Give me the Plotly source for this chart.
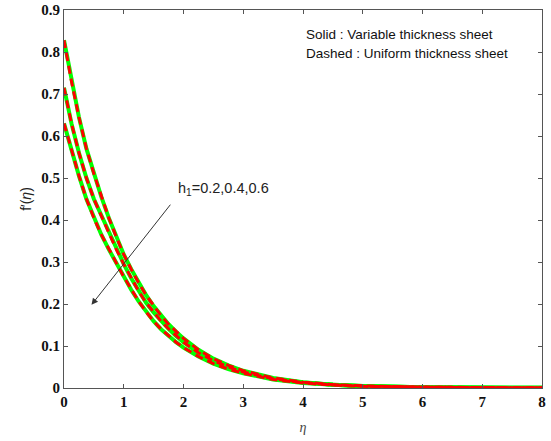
import plotly.graph_objects as go

# eta grid and f'(eta) values
eta = [0, 0.125, 0.25, 0.375, 0.5, 0.625, 0.75, 0.875, 1.0, 1.125, 1.25, 1.375, 1.5, 1.625, 1.75, 1.875, 2.0,
       2.25, 2.5, 2.75, 3.0, 3.5, 4.0, 4.5, 5.0, 6.0, 7.0, 8.0]
h1_labels = ["0.2", "0.4", "0.6"]
solid_h02 = [0.828, 0.73, 0.645, 0.57, 0.51, 0.455, 0.405, 0.36, 0.318, 0.283, 0.25, 0.221, 0.195, 0.172, 0.152, 0.134, 0.118,
             0.091, 0.070, 0.054, 0.041, 0.024, 0.014, 0.008, 0.005, 0.002, 0.0008, 0.0003]
solid_h04 = [0.715, 0.63, 0.56, 0.50, 0.45, 0.41, 0.37, 0.33, 0.295, 0.261, 0.23, 0.203, 0.180, 0.159, 0.141, 0.124, 0.109,
             0.084, 0.065, 0.050, 0.038, 0.022, 0.013, 0.0075, 0.0045, 0.0018, 0.0007, 0.0003]
solid_h06 = [0.63, 0.565, 0.505, 0.45, 0.405, 0.365, 0.33, 0.298, 0.265, 0.234, 0.206, 0.181, 0.159, 0.140, 0.124, 0.109, 0.096,
             0.075, 0.058, 0.045, 0.035, 0.020, 0.012, 0.007, 0.004, 0.0016, 0.0006, 0.0003]
dashed_h02 = [0.828, 0.73, 0.645, 0.57, 0.51, 0.455, 0.405, 0.36, 0.318, 0.283, 0.25, 0.221, 0.195, 0.172, 0.152, 0.134, 0.118,
              0.091, 0.070, 0.054, 0.041, 0.024, 0.014, 0.008, 0.005, 0.002, 0.0008, 0.0003]
dashed_h04 = [0.715, 0.63, 0.56, 0.50, 0.45, 0.41, 0.37, 0.33, 0.295, 0.261, 0.23, 0.203, 0.180, 0.159, 0.141, 0.124, 0.109,
              0.084, 0.065, 0.050, 0.038, 0.022, 0.013, 0.0075, 0.0045, 0.0018, 0.0007, 0.0003]
dashed_h06 = [0.63, 0.565, 0.505, 0.45, 0.405, 0.365, 0.33, 0.298, 0.265, 0.234, 0.206, 0.181, 0.159, 0.140, 0.124, 0.109, 0.096,
              0.075, 0.058, 0.045, 0.035, 0.020, 0.012, 0.007, 0.004, 0.0016, 0.0006, 0.0003]

x_ticks = [0, 1, 2, 3, 4, 5, 6, 7, 8]
y_ticks = [0, 0.1, 0.2, 0.3, 0.4, 0.5, 0.6, 0.7, 0.8, 0.9]
y_ticklabels = ["0", "0.1", "0.2", "0.3", "0.4", "0.5", "0.6", "0.7", "0.8", "0.9"]

fig = go.Figure()
for vals, h in zip([solid_h02, solid_h04, solid_h06], h1_labels):
    fig.add_trace(go.Scatter(x=eta, y=vals, mode="lines",
                             line=dict(color="#00ff00", width=4),
                             name=f"Variable h1={h}", showlegend=False))
for vals, h in zip([dashed_h02, dashed_h04, dashed_h06], h1_labels):
    fig.add_trace(go.Scatter(x=eta, y=vals, mode="lines",
                             line=dict(color="#ff0000", width=3, dash="8px,5px"),
                             name=f"Uniform h1={h}", showlegend=False))

tickfont = dict(family="Liberation Serif", size=15, color="#111111", weight="bold")
axis_common = dict(showline=True, linecolor="#555555", linewidth=1, mirror="ticks", ticks="inside",
                   ticklen=4, tickcolor="#555555", showgrid=False, zeroline=False, tickfont=tickfont,
                   automargin=False)

fig.update_xaxes(range=[0, 8], tickvals=x_ticks, ticktext=[str(v) for v in x_ticks],
                 title=dict(text="<i>η</i>", font=dict(family="Liberation Serif", size=14, color="#444444"), standoff=13),
                 **axis_common)
fig.update_yaxes(range=[0, 0.9], tickvals=y_ticks, ticktext=y_ticklabels,
                 title=dict(text="f′(<i>η</i>)", font=dict(family="Liberation Sans", size=14, color="#222222"), standoff=6),
                 **axis_common)

fig.add_annotation(x=0.46, y=0.198, ax=1.80, ay=0.44, xref="x", yref="y", axref="x", ayref="y",
                   text="", showarrow=True, arrowhead=2, arrowsize=1.3, arrowwidth=1, arrowcolor="#333333")
fig.add_annotation(x=1.87, y=0.475, xref="x", yref="y", xanchor="left", yanchor="middle",
                   text="h<sub>1</sub>=0.2,0.4,0.6", showarrow=False,
                   font=dict(family="Liberation Sans", size=14.5, color="#222222"))
fig.add_annotation(x=0.503, y=0.934, xref="paper", yref="paper", xanchor="left", yanchor="middle",
                   text="Solid : Variable thickness sheet", showarrow=False,
                   font=dict(family="Liberation Sans", size=13.5, color="#111111"))
fig.add_annotation(x=0.503, y=0.885, xref="paper", yref="paper", xanchor="left", yanchor="middle",
                   text="Dashed : Uniform thickness sheet", showarrow=False,
                   font=dict(family="Liberation Sans", size=13.5, color="#111111"))

fig.update_layout(width=551, height=441, margin=dict(l=64, r=9, t=10, b=53),
                  paper_bgcolor="white", plot_bgcolor="white", showlegend=False)
fig.write_html("out.html", config={"displayModeBar": False},
               post_script="document.body.style.margin='0';document.body.style.overflow='hidden';")
